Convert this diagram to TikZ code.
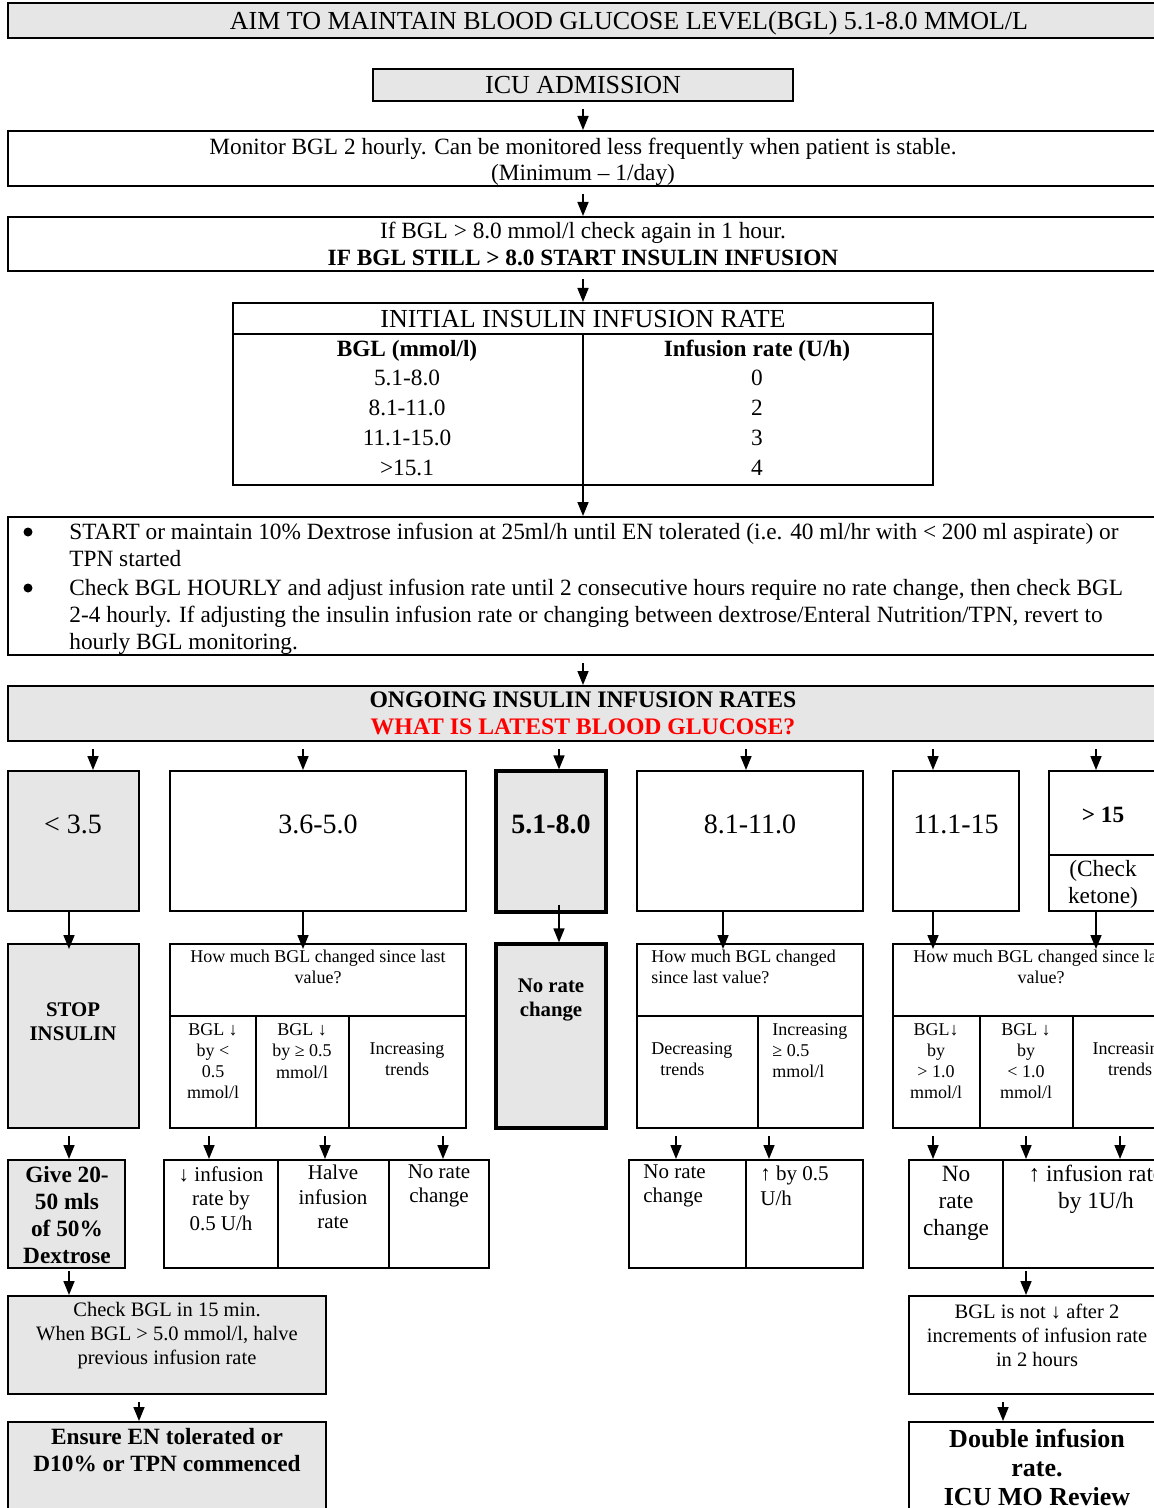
\documentclass[tikz,border=0pt]{standalone}
\usepackage{fontspec}
\setmainfont{Liberation Serif}
\usetikzlibrary{arrows.meta}
\definecolor{boxFill}{HTML}{E6E6E6}
\definecolor{askRed}{HTML}{FF0000}
\begin{document}
\begin{tikzpicture}[x=0.5pt,y=-0.5pt,
  >={Triangle[length=7pt,width=5.5pt]},
  box/.style={rectangle,draw,line width=1pt,inner sep=0pt,align=center,font=\fontsize{11.65}{13.25}\selectfont},
  shaded/.style={box,fill=boxFill},
  heavy/.style={shaded,line width=1.6pt},
  arr/.style={->,line width=.8pt,shorten <=3.5pt},
  divider/.style={line width=.9pt},
  dot/.style={circle,fill,inner sep=0pt,minimum size=4.5pt},
  bodytext/.style={inner sep=0pt,align=center,font=\fontsize{11.65}{13.5}\selectfont},
  boldtext/.style={bodytext,font=\fontsize{11.65}{13.5}\selectfont\bfseries},
  headtext/.style={bodytext,font=\fontsize{13}{15}\selectfont},
  rangetext/.style={bodytext,font=\fontsize{14}{16}\selectfont},
  asktext/.style={bodytext,font=\fontsize{9}{10.6}\selectfont},
  acttext/.style={bodytext,font=\fontsize{10.5}{12.2}\selectfont},
  notetext/.style={bodytext,font=\fontsize{10.25}{12}\selectfont},
  stoptext/.style={bodytext,font=\fontsize{10.4}{12}\selectfont\bfseries}
]
\useasboundingbox (0,0) rectangle (1154,1508);
\clip (0,0) rectangle (1154,1508);
% Coordinates are in pixels of the page; boxes on the right run past the edge.
\node[shaded,minimum width=621pt,minimum height=17.5pt] (aim) at (629,20.5) {};
\node[headtext] (aimlabel) at (629,23.5) {AIM TO MAINTAIN BLOOD GLUCOSE LEVEL(BGL) 5.1-8.0 MMOL/L};
\node[shaded,minimum width=210pt,minimum height=16pt,font=\fontsize{13}{15}\selectfont] (icu) at (583,85) {ICU ADMISSION};
\node[box,minimum width=575pt,minimum height=27.5pt] (mon) at (583,158.5) {};
\node[bodytext,font=\fontsize{11.65}{13}\selectfont] (monlabel) at (583,161.5) {Monitor BGL 2 hourly. Can be monitored less frequently when patient is stable.\\(Minimum – 1/day)};
\node[box,minimum width=575pt,minimum height=27pt] (ifb) at (583,244) {If BGL > 8.0 mmol/l check again in 1 hour.\\\textbf{IF BGL STILL > 8.0 START INSULIN INFUSION}};
\node[box,minimum width=350pt,minimum height=91pt] (tbl) at (583,394) {};
\draw[divider] (tbl.west |- 0,334) -- (tbl.east |- 0,334);
\draw[divider] (tbl.center |- 0,334) -- (tbl.south);
\node[headtext] (tblhead) at (583,319.5) {INITIAL INSULIN INFUSION RATE};
\node[boldtext] (bglhead) at (407,351) {BGL (mmol/l)};
\node[boldtext] (ratehead) at (757,351) {Infusion rate (U/h)};
\foreach \bgl/\rate [count=\i] in {5.1-8.0/0,8.1-11.0/2,11.1-15.0/3,>15.1/4}{
  \node[bodytext] (bgl\i) at (407,348+30*\i) {\bgl};
  \node[bodytext] (rate\i) at (757,348+30*\i) {\rate};
}
\node[box,minimum width=575pt,minimum height=69pt] (bul) at (583,586) {};
\node[dot] (dot1) at (28,532) {};
\node[bodytext,anchor=west,align=left] (item1) at (69,544.5) {START or maintain 10\% Dextrose infusion at 25ml/h until EN tolerated (i.e. 40 ml/hr with < 200 ml aspirate) or\\TPN started};
\node[dot] (dot2) at (28,588) {};
\node[bodytext,anchor=west,align=left] (item2) at (69,617) {Check BGL HOURLY and adjust infusion rate until 2 consecutive hours require no rate change, then check BGL\\2-4 hourly. If adjusting the insulin infusion rate or changing between dextrose/Enteral Nutrition/TPN, revert to\\hourly BGL monitoring.};
\node[shaded,minimum width=575pt,minimum height=27.5pt,font=\fontsize{11.85}{13.5}\selectfont\bfseries] (ong) at (583,713.5) {ONGOING INSULIN INFUSION RATES\\\textcolor{askRed}{WHAT IS LATEST BLOOD GLUCOSE?}};
% first row: the BGL ranges
\node[shaded,minimum width=65.5pt,minimum height=70pt] (lt) at (73.5,841) {};
\node[rangetext] (ltlabel) at (73,824) {< 3.5};
\node[box,minimum width=148pt,minimum height=70pt] (lo) at (318,841) {};
\node[rangetext] (lolabel) at (318,824) {3.6-5.0};
\node[heavy,minimum width=55pt,minimum height=70.5pt] (ok) at (551,841.5) {};
\node[rangetext,font=\fontsize{14}{16}\selectfont\bfseries] (oklabel) at (551,824) {5.1-8.0};
\node[box,minimum width=113pt,minimum height=70pt] (mid) at (750,841) {};
\node[rangetext] (midlabel) at (750,824) {8.1-11.0};
\node[box,minimum width=63pt,minimum height=70pt] (hi) at (956,841) {};
\node[rangetext] (hilabel) at (956,824) {11.1-15};
\node[box,minimum width=55.5pt,minimum height=70pt] (vhi) at (1104.5,841) {};
\draw[divider] (vhi.west |- 0,855) -- (vhi.east |- 0,855);
\node[boldtext] (vhilabel) at (1103,815) {> 15};
\node[bodytext] (vhinote) at (1103,884.5) {(Check\\ketone)};
% second row: what to check
\node[shaded,minimum width=65.5pt,minimum height=92pt] (stop) at (73.5,1036) {};
\node[stoptext] (stoplabel) at (73,1022) {STOP\\INSULIN};
\node[box,minimum width=148pt,minimum height=92pt] (q1) at (318,1036) {};
\draw[divider] (q1.west |- 0,1016) -- (q1.east |- 0,1016);
\foreach \x in {256,349} \draw[divider] (\x,1016) -- (q1.south -| \x,0);
\node[asktext] (q1ask) at (318,966.5) {How much BGL changed since last\\value?};
\node[asktext] (q1a) at (213,1061) {BGL ↓\\by <\\0.5\\mmol/l};
\node[asktext] (q1b) at (302,1051) {BGL ↓\\by ≥ 0.5\\mmol/l};
\node[asktext] (q1c) at (407,1059.5) {Increasing\\trends};
\node[heavy,minimum width=55pt,minimum height=92pt] (nrc) at (551,1036) {};
\node[stoptext] (nrclabel) at (551,1000) {No rate\\change};
\node[box,minimum width=113pt,minimum height=92pt] (q2) at (750,1036) {};
\draw[divider] (q2.west |- 0,1016) -- (q2.east |- 0,1016);
\draw[divider] (758,1016) -- (q2.south -| 758,0);
\node[asktext,anchor=west,align=left] (q2ask) at (651,966.5) {How much BGL changed\\since last value?};
\node[asktext,anchor=west,align=left] (q2a) at (651,1059.5) {Decreasing\\\hspace*{4.5pt}trends};
\node[asktext,anchor=west,align=left] (q2b) at (772,1050.5) {Increasing\\≥ 0.5\\mmol/l};
\node[box,minimum width=148pt,minimum height=92pt] (q3) at (1041,1036) {};
\draw[divider] (q3.west |- 0,1016) -- (q3.east |- 0,1016);
\foreach \x in {980,1073} \draw[divider] (\x,1016) -- (q3.south -| \x,0);
\node[asktext] (q3ask) at (1041,966.5) {How much BGL changed since last\\value?};
\node[asktext] (q3a) at (936,1061) {BGL↓\\by\\> 1.0\\mmol/l};
\node[asktext] (q3b) at (1026,1061) {BGL ↓\\by\\< 1.0\\mmol/l};
\node[asktext] (q3c) at (1130,1059.5) {Increasing\\trends};
% third row: actions
\node[shaded,minimum width=58.5pt,minimum height=54pt] (give) at (66.5,1214) {};
\node[boldtext] (givelabel) at (67,1215) {Give 20-\\50 mls\\of 50\%\\Dextrose};
\node[box,minimum width=162.5pt,minimum height=54pt] (a1) at (326.5,1214) {};
\foreach \x in {278,389} \draw[divider] (a1.north -| \x,0) -- (a1.south -| \x,0);
\node[acttext] (a1a) at (221,1198.5) {↓ infusion\\rate by\\0.5 U/h};
\node[acttext] (a1b) at (333,1197) {Halve\\infusion\\rate};
\node[acttext] (a1c) at (439,1186) {No rate\\change};
\node[box,minimum width=117pt,minimum height=54pt] (a2) at (746,1214) {};
\draw[divider] (a2.north) -- (a2.south);
\node[acttext,anchor=west,align=left] (a2a) at (643,1186) {No rate\\change};
\node[acttext,anchor=west,align=left] (a2b) at (760,1186) {↑ by 0.5\\U/h};
\node[box,minimum width=140pt,minimum height=54pt] (a3) at (1049,1214) {};
\draw[divider] (a3.north -| 1003,0) -- (a3.south -| 1003,0);
\node[bodytext] (a3a) at (956,1203) {No\\rate\\change};
\node[bodytext] (a3b) at (1096,1189.5) {↑ infusion rate\\by 1U/h};
% last rows
\node[shaded,minimum width=159pt,minimum height=49pt] (chk) at (167,1345) {};
\node[notetext] (chklabel) at (167,1336) {Check BGL in 15 min.\\When BGL > 5.0 mmol/l, halve\\previous infusion rate};
\node[box,minimum width=128pt,minimum height=49pt] (nod) at (1037,1345) {};
\node[notetext] (nodlabel) at (1037,1335) {BGL is not ↓ after 2\\increments of infusion rate\\in 2 hours};
\node[shaded,minimum width=159pt,minimum height=54pt] (ens) at (167,1476) {};
\node[boldtext] (enslabel) at (167,1450.5) {Ensure EN tolerated or\\D10\% or TPN commenced};
\node[box,minimum width=128pt,minimum height=54pt] (dbl) at (1037,1476) {};
\node[bodytext,font=\fontsize{13}{14.5}\selectfont\bfseries] (dbllabel) at (1037,1467) {Double infusion\\rate.\\ICU MO Review};
% connectors
\draw[arr] (icu.south) -- (mon.north);
\draw[arr] (mon.south) -- (ifb.north);
\draw[arr] (ifb.south) -- (tbl.north);
\draw[arr,shorten <=0pt] (tbl.south) -- (bul.north);
\draw[arr] (bul.south) -- (ong.north);
\foreach \x/\target in {93/lt,303/lo,559/ok,746/mid,933/hi,1096/vhi}
  \draw[arr] (ong.south -| \x,0) -- (\target.north -| \x,0);
\foreach \x/\from/\to in {69/lt/stop,303/lo/q1,723/mid/q2,933/hi/q3,1096/vhi/q3}
  \draw[arr,shorten <=0pt,shorten >=-3pt] (\from.south -| \x,0) -- (\to.north -| \x,0);
\draw[arr,shorten <=-4.5pt] (ok.south -| 559,0) -- (nrc.north -| 559,0);
\foreach \x/\from/\to in {69/stop/give,209/q1/a1,325/q1/a1,443/q1/a1,676/q2/a2,769/q2/a2,933/q3/a3,1026/q3/a3,1120/q3/a3}
  \draw[arr] (\from.south -| \x,0) -- (\to.north -| \x,0);
\draw[arr,shorten <=1pt] (give.south -| 69,0) -- (chk.north -| 69,0);
\draw[arr,shorten <=1pt] (a3.south -| 1026,0) -- (nod.north -| 1026,0);
\draw[arr] (chk.south -| 139,0) -- (ens.north -| 139,0);
\draw[arr] (nod.south -| 1003,0) -- (dbl.north -| 1003,0);
\end{tikzpicture}
\end{document}
